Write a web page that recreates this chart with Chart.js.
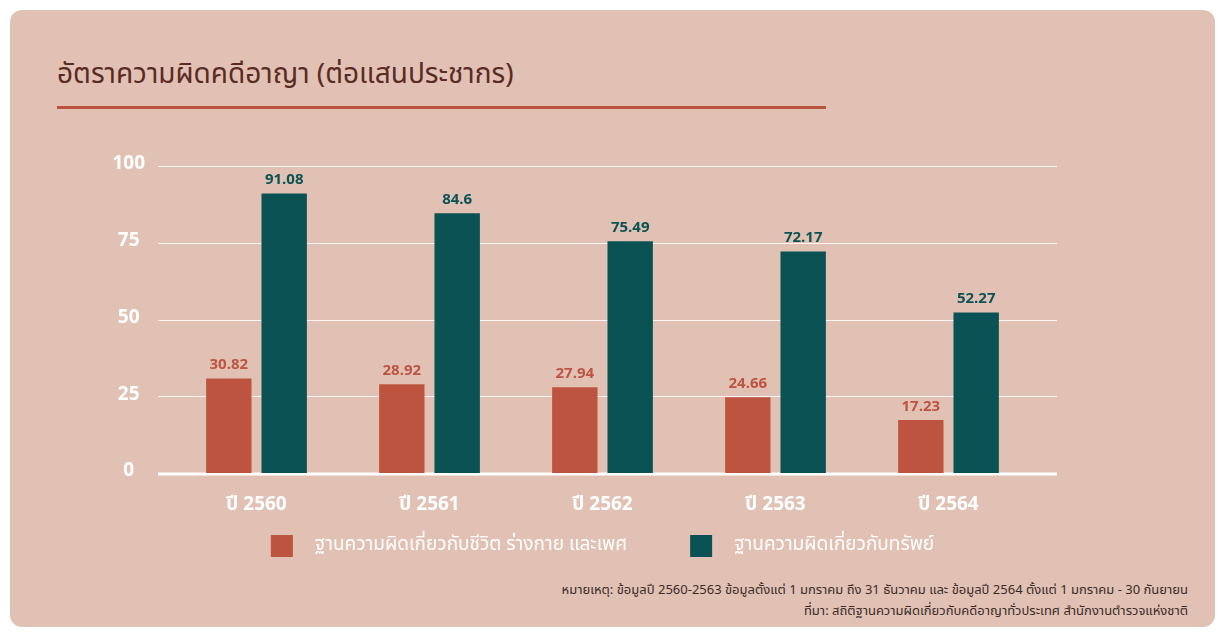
<!DOCTYPE html>
<html>
<head>
<meta charset="utf-8">
<script src="https://cdn.jsdelivr.net/npm/chart.js@4.4.1/dist/chart.umd.min.js"></script>
<style>
  html, body { margin: 0; padding: 0; background: #ffffff; }
  body { width: 1225px; height: 637px; position: relative; overflow: hidden;
    font-family: "Noto Sans Thai", "Noto Sans Thai Looped", Loma, Garuda, "Noto Sans", sans-serif; }
  .card { position: absolute; left: 10px; top: 10px; width: 1205px; height: 617px;
    background: #e2c1b5; border-radius: 12px; }
  .title { position: absolute; left: 57px; top: 55px; font-size: 28px; line-height: 40px; color: #5a2b23; }
  .rule { position: absolute; left: 57px; top: 106px; width: 769px; height: 3px; background: #b9523e; }
  .note { position: absolute; right: 37px; font-size: 13px; color: #3a2b27; text-align: right; }
  #wrap { position: absolute; left: 0; top: 0; width: 1225px; height: 637px; }
</style>
</head>
<body>
<div class="card"></div>
<div class="title">อัตราความผิดคดีอาญา (ต่อแสนประชากร)</div>
<div class="rule"></div>
<div class="note" style="top:580px">หมายเหตุ: ข้อมูลปี 2560-2563 ข้อมูลตั้งแต่ 1 มกราคม ถึง 31 ธันวาคม และ ข้อมูลปี 2564 ตั้งแต่ 1 มกราคม - 30 กันยายน</div>
<div class="note" style="top:601px">ที่มา: สถิติฐานความผิดเกี่ยวกับคดีอาญาทั่วประเทศ สำนักงานตำรวจแห่งชาติ</div>
<div id="wrap"><canvas id="crimeChart"></canvas></div>
<script>
const years = ['ปี 2560', 'ปี 2561', 'ปี 2562', 'ปี 2563', 'ปี 2564'];
const lifeBodySex = [30.82, 28.92, 27.94, 24.66, 17.23];
const property = [91.08, 84.6, 75.49, 72.17, 52.27];
const seriesNames = ['ฐานความผิดเกี่ยวกับชีวิต ร่างกาย และเพศ', 'ฐานความผิดเกี่ยวกับทรัพย์'];
const yTicks = [0, 25, 50, 75, 100];

const RED = '#bd5440';
const TEAL = '#0b5254';
const numFont = '"Open Sans", "Noto Sans", sans-serif';
const thaiFont = '"Noto Sans Thai", "Noto Sans Thai Looped", Loma, Garuda, "Noto Sans", sans-serif';

// grid lines run a bit past the bars on both sides
const wideGrid = {
  id: 'wideGrid',
  beforeDatasetsDraw(chart) {
    const { ctx, chartArea, scales } = chart;
    ctx.save();
    scales.y.ticks.forEach(t => {
      const y = Math.round(scales.y.getPixelForValue(t.value));
      const zero = t.value === 0;
      ctx.beginPath();
      ctx.strokeStyle = zero ? '#ffffff' : 'rgba(255,255,255,0.85)';
      ctx.lineWidth = zero ? 3 : 1;
      ctx.moveTo(chartArea.left - 12, y + (zero ? 1 : 0.5));
      ctx.lineTo(chartArea.right + 22, y + (zero ? 1 : 0.5));
      ctx.stroke();
    });
    ctx.restore();
  }
};

// value labels above each bar
const barValues = {
  id: 'barValues',
  afterDatasetsDraw(chart) {
    const { ctx } = chart;
    ctx.save();
    ctx.font = 'bold 15px ' + numFont;
    ctx.textAlign = 'center';
    ctx.textBaseline = 'bottom';
    chart.data.datasets.forEach((ds, i) => {
      ctx.fillStyle = ds.backgroundColor;
      chart.getDatasetMeta(i).data.forEach((bar, j) => {
        ctx.fillText(String(ds.data[j]), bar.x, bar.y - 6);
      });
    });
    ctx.restore();
  }
};

// legend drawn under the axis: square swatch, wide gap, white text
const swatchLegend = {
  id: 'swatchLegend',
  afterDraw(chart) {
    const { ctx, chartArea } = chart;
    const box = 22, gapText = 22, gapItems = 63;
    ctx.save();
    ctx.font = '19px ' + thaiFont;
    ctx.textBaseline = 'middle';
    const items = chart.data.datasets.map(ds => ({
      text: ds.label, color: ds.backgroundColor,
      w: box + gapText + ctx.measureText(ds.label).width
    }));
    const total = items.reduce((s, it) => s + it.w, 0) + gapItems * (items.length - 1);
    let x = (chartArea.left + chartArea.right) / 2 - total / 2;
    const cy = chartArea.bottom + 73;
    items.forEach(it => {
      ctx.fillStyle = it.color;
      ctx.fillRect(x, cy - box / 2, box, box);
      ctx.fillStyle = '#ffffff';
      ctx.fillText(it.text, x + box + gapText, cy);
      x += it.w + gapItems;
    });
    ctx.restore();
  }
};

new Chart(document.getElementById('crimeChart'), {
  type: 'bar',
  data: {
    labels: years,
    datasets: [
      { label: seriesNames[0], data: lifeBodySex, backgroundColor: RED },
      { label: seriesNames[1], data: property, backgroundColor: TEAL }
    ]
  },
  options: {
    responsive: true,
    maintainAspectRatio: false,
    animation: false,
    categoryPercentage: 0.64,
    barPercentage: 0.82,
    layout: { padding: { left: 100, right: 190, top: 166, bottom: 112 } },
    plugins: {
      tooltip: { enabled: false },
      legend: { display: false }
    },
    scales: {
      x: {
        grid: { display: false },
        border: { display: false },
        ticks: { color: '#ffffff', padding: 12, font: { family: numFont + ', ' + thaiFont, size: 19, weight: 'bold' } },
        afterFit(scale) { scale.height = 52; }
      },
      y: {
        min: 0, max: 100,
        afterBuildTicks(scale) { scale.ticks = yTicks.map(v => ({ value: v })); },
        grid: { display: false, drawTicks: false },
        border: { display: false },
        ticks: { color: '#ffffff', padding: 25, crossAlign: 'center', labelOffset: -2,
          font: { family: numFont, size: 19, weight: 'bold' } },
        afterFit(scale) { scale.width = 70; }
      }
    }
  },
  plugins: [wideGrid, barValues, swatchLegend]
});
</script>
</body>
</html>
